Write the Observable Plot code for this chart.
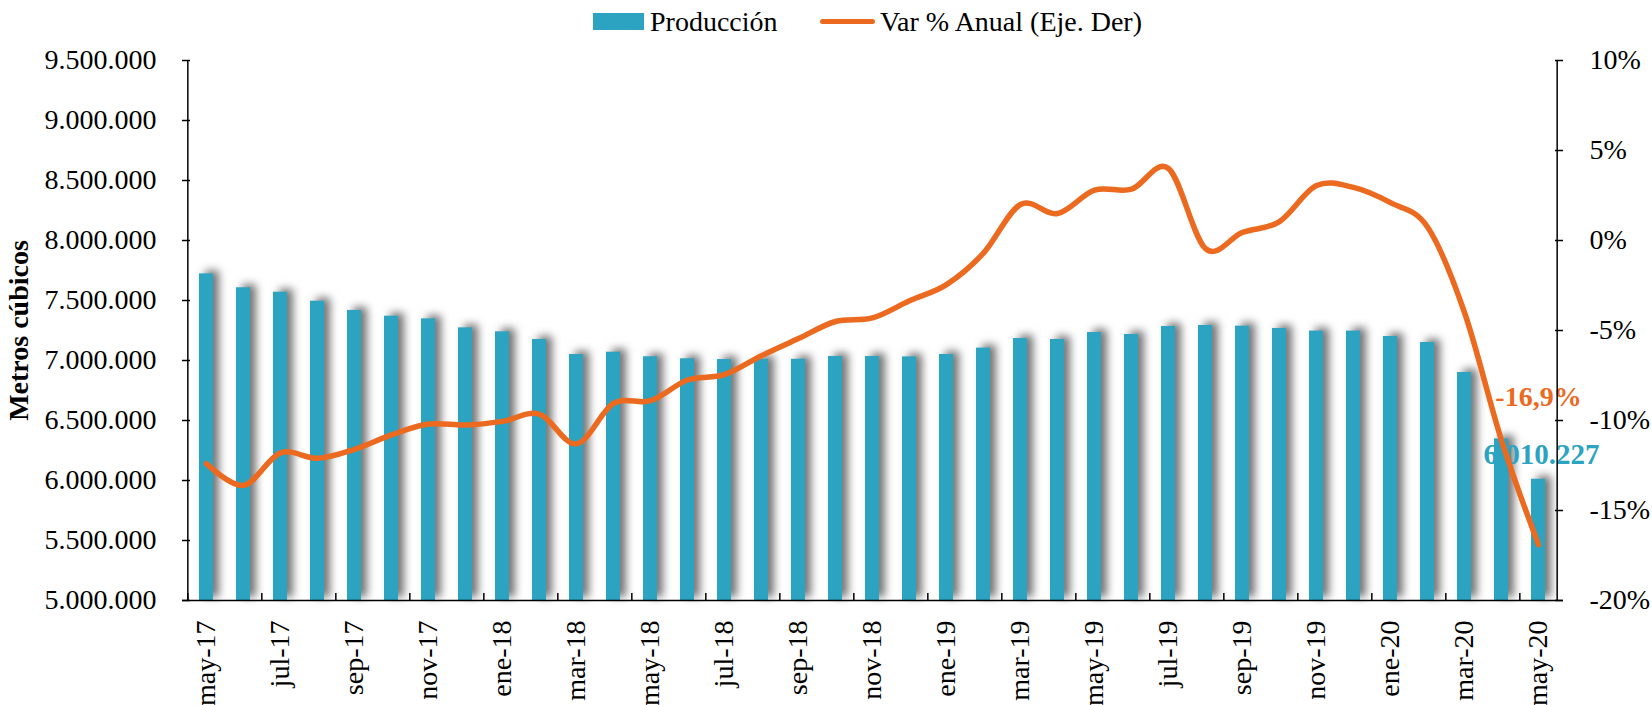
<!DOCTYPE html>
<html>
<head>
<meta charset="utf-8">
<script src="https://cdn.jsdelivr.net/npm/d3@7"></script>
<script src="https://cdn.jsdelivr.net/npm/@observablehq/plot@0.6"></script>
<style>
  body { margin: 0; background: #fff; font-family: "Liberation Serif", serif; }
  #legend { position: relative; width: 1652px; height: 45px; }
  #legend .sw-bar { position: absolute; left: 593px; top: 13px; width: 51px; height: 17px; background: #2CA3C1; }
  #legend .sw-line { position: absolute; left: 820px; top: 19px; width: 55px; height: 5px; border-radius: 3px; background: #EB6A1F; }
  #legend .lg-text { position: absolute; top: 8px; font-size: 28px; line-height: 28px; white-space: nowrap; color: #000; }
  g[aria-label="bar"] { filter: drop-shadow(6px -3px 4px rgba(0,0,0,0.55)); }
</style>
</head>
<body>
<div id="legend">
  <span class="sw-bar"></span>
  <span class="lg-text" style="left:650px">Producción</span>
  <span class="sw-line"></span>
  <span class="lg-text" style="left:880px">Var % Anual (Eje. Der)</span>
</div>
<div id="chart"></div>
<script>
// ---- data ----
const months = ["may-17","jun-17","jul-17","ago-17","sep-17","oct-17","nov-17","dic-17",
  "ene-18","feb-18","mar-18","abr-18","may-18","jun-18","jul-18","ago-18","sep-18","oct-18","nov-18","dic-18",
  "ene-19","feb-19","mar-19","abr-19","may-19","jun-19","jul-19","ago-19","sep-19","oct-19","nov-19","dic-19",
  "ene-20","feb-20","mar-20","abr-20","may-20"];
const produccion = [7722000,7606000,7569000,7494000,7417000,7369000,7347000,7272000,
  7239000,7175000,7050000,7069000,7031000,7014000,7008000,7010000,7010000,7033000,7033000,7030000,
  7050000,7103000,7183000,7175000,7233000,7217000,7283000,7292000,7286000,7267000,7245000,7245000,
  7200000,7150000,6900000,6347000,6010227];
const varAnual = [-12.4,-13.6,-11.8,-12.1,-11.6,-10.8,-10.2,-10.25,
  -10.05,-9.65,-11.3,-9.05,-8.9,-7.75,-7.45,-6.4,-5.45,-4.5,-4.3,-3.35,
  -2.45,-0.7,2.0,1.5,2.8,2.85,4.0,-0.45,0.45,1.05,3.05,2.95,
  2.1,0.75,-4.0,-11.1,-16.9];
const leftTicks = [5000000,5500000,6000000,6500000,7000000,7500000,8000000,8500000,9000000,9500000];
const rightTicks = [-20,-15,-10,-5,0,5,10];
const xTickMonths = months.filter((d, i) => i % 2 === 0);
const labelProduccion = "6.010.227";
const labelVar = "-16,9%";
const yTitle = "Metros cúbicos";

// ---- layout ----
const W = 1652, H = 660;
const mL = 182, mR = 89, mT = 15, mB = 105;
const plotW = W - mL - mR, plotH = H - mT - mB;
const step = plotW / months.length;
const teal = "#2CA3C1", orange = "#EB6A1F";

const yMin = leftTicks[0], yMax = leftTicks[leftTicks.length - 1];
const pMin = rightTicks[0], pMax = rightTicks[rightTicks.length - 1];
const toLeft = p => yMin + (p - pMin) * (yMax - yMin) / (pMax - pMin);

const rows = months.map((m, i) => ({month: m, prod: produccion[i], pct: varAnual[i], pctY: toLeft(varAnual[i])}));
const last = rows[rows.length - 1];
const fmtLeft = v => d3.format(",")(v).replace(/,/g, ".");

const chart = Plot.plot({
  width: W, height: H,
  marginLeft: mL, marginRight: mR, marginTop: mT, marginBottom: mB,
  style: {fontFamily: "'Liberation Serif', serif", fontSize: "28px", color: "#000", background: "#fff", overflow: "visible"},
  x: {type: "band", domain: months, paddingInner: 0.62, paddingOuter: 0.31, axis: null},
  y: {domain: [yMin, yMax], axis: null},
  marks: [
    Plot.barY(rows, {x: "month", y1: yMin, y2: "prod", fill: teal}),
    Plot.text([last], {x: "month", y: "prod", text: () => labelProduccion, dx: 3, dy: -25,
      fill: teal, fontWeight: "bold", fontSize: 29}),
    Plot.text([last], {x: "month", y: "pctY", text: () => labelVar, dx: 0, dy: -148,
      fill: orange, fontWeight: "bold", fontSize: 28}),
    Plot.line(rows, {x: "month", y: "pctY", stroke: orange, strokeWidth: 5.5, curve: "cardinal",
      strokeLinecap: "round", strokeLinejoin: "round"}),
    // axis lines
    Plot.ruleY([yMin], {stroke: "#000", strokeWidth: 1.5}),
    Plot.ruleX([months[0]], {dx: -step / 2, stroke: "#000", strokeWidth: 1.5}),
    Plot.ruleX([months[months.length - 1]], {dx: step / 2, stroke: "#000", strokeWidth: 1.5}),
    // inward ticks
    Plot.tickY(leftTicks, {y: d => d, insetRight: plotW - 8, stroke: "#000", strokeWidth: 1.5}),
    Plot.tickY(rightTicks.map(toLeft), {y: d => d, insetLeft: plotW - 8, stroke: "#000", strokeWidth: 1.5}),
    Plot.tickX(xTickMonths, {x: d => d, dx: -step / 2, insetTop: plotH - 7, stroke: "#000", strokeWidth: 1.5}),
    // axes labels
    Plot.axisY(leftTicks, {anchor: "left", tickSize: 0, tickPadding: 26, tickFormat: fmtLeft, label: null}),
    Plot.axisY(rightTicks.map(toLeft), {anchor: "right", tickSize: 0, tickPadding: 26,
      tickFormat: (v, i) => `${rightTicks[i]}%`, label: null}),
    Plot.axisX(xTickMonths, {anchor: "bottom", tickSize: 0, tickPadding: 20, tickRotate: -90, label: null}),
    Plot.text([yTitle], {frameAnchor: "left", rotate: -90, dx: -163, textAnchor: "middle",
      fontWeight: "bold", fontSize: 28, fill: "#000"})
  ]
});
document.getElementById("chart").appendChild(chart);
</script>
</body>
</html>
